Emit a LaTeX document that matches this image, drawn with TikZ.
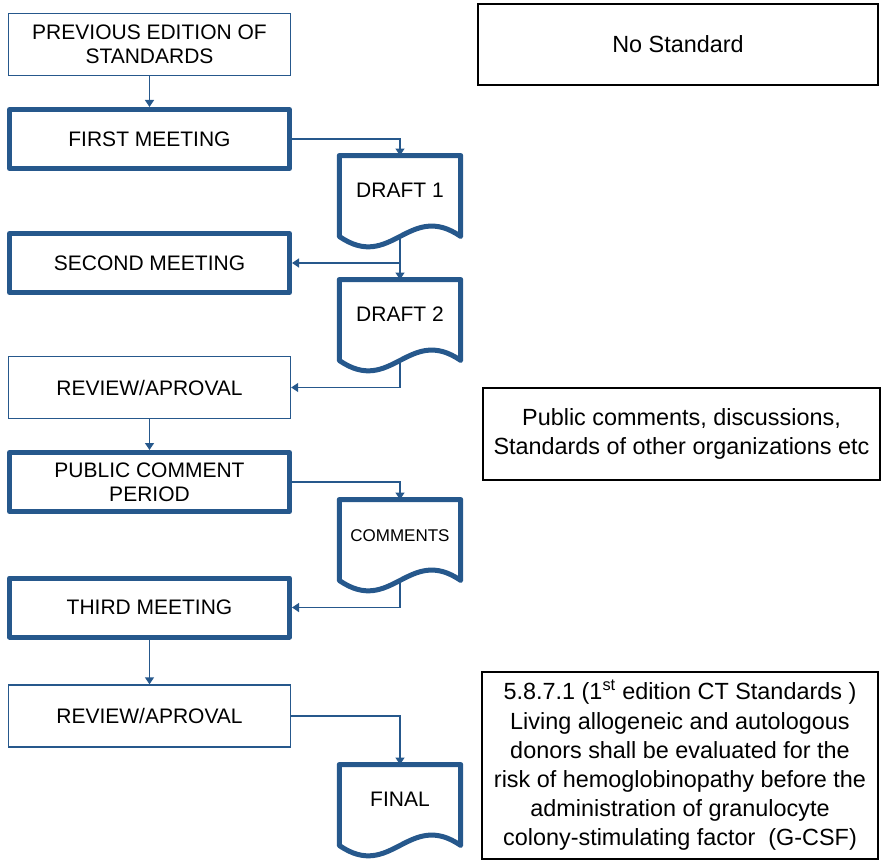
\documentclass[tikz,border=0pt]{standalone}
\usepackage{fontspec}
\setmainfont{Liberation Sans}
\usetikzlibrary{arrows.meta}
\definecolor{flowblue}{RGB}{38,88,140}

% outline of a flowchart "document" symbol around a named node
\newcommand\docoutline[1]{%
  \draw[docline] (#1.south west) -- (#1.north west) -- (#1.north east) -- (#1.south east)
    .. controls +(-52,-36) and +(52,36) .. (#1.south west) -- cycle;}

\begin{document}
\begin{tikzpicture}[x=1pt,y=-1pt,
  every node/.style={align=center, inner sep=0pt},
  leftfont/.style={font=\fontsize{21}{24}\selectfont},
  rightfont/.style={font=\fontsize{23.4}{29.2}\selectfont},
  thinbox/.style={leftfont, draw=flowblue, line width=1.3pt, minimum width=282pt, minimum height=62pt},
  thickbox/.style={leftfont, draw=flowblue, line width=5pt, line join=round, minimum width=280pt, minimum height=59pt},
  docnode/.style={leftfont, minimum width=121pt, minimum height=80.5pt, text height=15pt, text depth=12pt},
  docline/.style={draw=flowblue, line width=5pt, line join=round},
  notebox/.style={rightfont, draw=black, line width=1.2pt},
  arr/.style={draw=flowblue, line width=1.3pt, -{Triangle[width=9pt,length=7pt]}}]

\useasboundingbox (0,0) rectangle (884,861);

% main column
\node[thinbox]  (prev)   at (149.5,44.5)  {PREVIOUS EDITION OF\\STANDARDS};
\node[thickbox] (first)  at (149.5,139)   {FIRST MEETING};
\node[thickbox] (second) at (149.5,263)   {SECOND MEETING};
\node[thinbox]  (rev1)   at (149.5,387.5) {REVIEW/APROVAL};
\node[thickbox] (public) at (149.5,482)   {PUBLIC COMMENT\\PERIOD};
\node[thickbox] (third)  at (149.5,607.5) {THIRD MEETING};
\node[thinbox]  (rev2)   at (149.5,716)   {REVIEW/APROVAL};

% documents
\node[docnode] (draft1)   at (400,196)   {DRAFT 1};
\node[docnode] (draft2)   at (400,320)   {DRAFT 2};
\node[docnode, font=\fontsize{17}{20}\selectfont] (comments) at (400,540) {COMMENTS};
\node[docnode] (final)    at (400,805)   {FINAL};
\docoutline{draft1}
\docoutline{draft2}
\docoutline{comments}
\docoutline{final}

% notes on the right
\node[notebox, minimum width=400pt, minimum height=81pt] (nostd) at (678,44.5) {No Standard};
\node[notebox, minimum width=397pt, minimum height=92pt] (pubc) at (681.5,434)
  {Public comments, discussions,\\Standards of other organizations etc};
\node[notebox, minimum width=396pt, minimum height=187pt] (std) at (680,765.5)
  {5.8.7.1 (1\textsuperscript{st} edition CT Standards )\\
   Living allogeneic and autologous\\
   donors shall be evaluated for the\\
   risk of hemoglobinopathy before the\\
   administration of granulocyte\\
   colony-stimulating factor\ \ (G-CSF)};

% connectors
\draw[arr] (prev.south) -- (first.north);
\draw[arr] (first.east) -| (draft1.north);
\draw[arr] (draft1.south) -- (draft2.north);
\draw[arr] (draft1.south |- second.east) -- (second.east);
\draw[arr] (draft2.south) |- (rev1.east);
\draw[arr] (rev1.south) -- (public.north);
\draw[arr] (public.east) -| (comments.north);
\draw[arr] (comments.south) |- (third.east);
\draw[arr] (third.south) -- (rev2.north);
\draw[arr] (rev2.east) -| (final.north);
\end{tikzpicture}
\end{document}
